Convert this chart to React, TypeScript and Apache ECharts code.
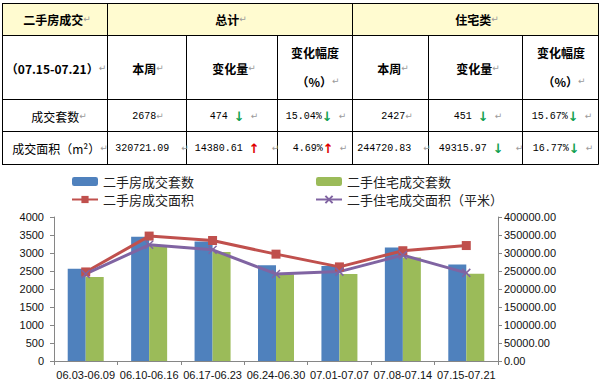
import React, { useEffect, useRef } from "react";
import * as echarts from "echarts";

// ---- chart data ----
const categories = ["06.03-06.09", "06.10-06.16", "06.17-06.23", "06.24-06.30", "07.01-07.07", "07.08-07.14", "07.15-07.21"];
const totalCount = [2560, 3450, 3320, 2660, 2640, 3152, 2678];
const residentialCount = [2330, 3210, 3030, 2410, 2420, 2878, 2427];
const totalArea = [247400, 347000, 334700, 296800, 261400, 306340.48, 320721.09];
const residentialArea = [241800, 322700, 308800, 241800, 248300, 294036.8, 244720.83];
const seriesNames = ["二手房成交套数", "二手住宅成交套数", "二手房成交面积", "二手住宅成交面积（平米）"];

// ---- table data ----
const headerTitles = ["二手房成交", "总计", "住宅类"];
const periodLabel = "（07.15-07.21）";
const subHeaders = ["本周", "变化量", "变化幅度", "本周", "变化量", "变化幅度"];
const rowLabels = ["成交套数", "成交面积（m²）"];
const totalThisWeek = ["2678", "320721.09"];
const totalChange = ["474", "14380.61"];
const totalChangeDir = ["down", "up"];
const totalPct = ["15.04%", "4.69%"];
const totalPctDir = ["down", "up"];
const resThisWeek = ["2427", "244720.83"];
const resChange = ["451", "49315.97"];
const resChangeDir = ["down", "down"];
const resPct = ["15.67%", "16.77%"];
const resPctDir = ["down", "down"];

const CN = "Noto Sans CJK SC";
const MONO = "Liberation Mono";

export default function App() {
  const ref = useRef<HTMLDivElement>(null);
  useEffect(() => {
    if (!ref.current) return;
    const chart = echarts.init(ref.current, undefined, { renderer: "svg" });

    const colX = [2, 107, 186, 277, 352, 428, 522, 598];
    const rowY = [3, 35, 99, 131, 164];
    const graphics: any[] = [];
    graphics.push({ type: "rect", shape: { x: 2, y: 3, width: 596, height: 32 }, style: { fill: "#FFFBD0" }, z: 0 });
    rowY.forEach((y) => {
      graphics.push({ type: "line", shape: { x1: 2, y1: y + 0.5, x2: 598.5, y2: y + 0.5 }, style: { stroke: "#000", lineWidth: 1 }, z: 2 });
    });
    colX.forEach((x, i) => {
      const merged = i === 2 || i === 3 || i === 5 || i === 6;
      graphics.push({ type: "line", shape: { x1: x + 0.5, y1: merged ? 35 : 3, x2: x + 0.5, y2: 164.5 }, style: { stroke: "#000", lineWidth: 1 }, z: 2 });
    });

    const rich = {
      b: { fontFamily: CN, fontSize: 12, fontWeight: "bold", fill: "#000" },
      c: { fontFamily: CN, fontSize: 12, fill: "#000" },
      n: { fontFamily: MONO, fontSize: 10, fill: "#000" },
      up: { fontFamily: "DejaVu Sans", fontSize: 13, fontWeight: "bold", fill: "#E00000" },
      down: { fontFamily: "DejaVu Sans", fontSize: 13, fontWeight: "bold", fill: "#10A050" },
      p: { fontFamily: "DejaVu Sans", fontSize: 9, fill: "#9a9a9a" },
      sp: { fontFamily: MONO, fontSize: 10, fill: "#000" },
    };
    const txt = (x: number, y: number, text: string) => {
      graphics.push({ type: "text", x, y, z: 3, style: { text, rich, align: "center", verticalAlign: "middle" } });
    };
    const arrow = (d: string) => (d === "up" ? "{up|↑}" : "{down|↓}");

    txt(57, 19, `{b|${headerTitles[0]}}{p|↵}`);
    txt(231, 19, `{b|${headerTitles[1]}}{p|↵}`);
    txt(477, 19, `{b|${headerTitles[2]}}{p|↵}`);
    txt(56, 68, `{b|${periodLabel}}{p|↵}`);
    const subCenters = [148, 234, 316, 393, 478, 562];
    subHeaders.forEach((s, i) => {
      if (s === "变化幅度") {
        txt(subCenters[i] - 1, 52, `{b|${s}}`);
        txt(subCenters[i] + 2, 81, `{b|（%）}{p|↵}`);
      } else {
        txt(subCenters[i], 68, `{b|${s}}{p|↵}`);
      }
    });
    rowLabels.forEach((lab, r) => {
      const y = r === 0 ? 116 : 148;
      txt(r === 0 ? 59 : 60, y, `{c|${lab}}{p|↵}`);
      txt(r === 0 ? 148 : 152, y, r === 0 ? `{n|${totalThisWeek[r]}}{p|↵}` : `{n|${totalThisWeek[r]}}{sp|  }{p|↵}`);
      txt(r === 0 ? 234 : 237, y, `{n|${totalChange[r]}}{sp| }${arrow(totalChangeDir[r])}{sp|${r === 0 ? " " : "  "}}{p|↵}`);
      txt(r === 0 ? 316 : 320, y, `{n|${totalPct[r]}}${arrow(totalPctDir[r])}{sp| }{p|↵}`);
      txt(r === 0 ? 397 : 394, y, r === 0 ? `{n|${resThisWeek[r]}}{p|↵}` : `{n|${resThisWeek[r]}}{sp|  }{p|↵}`);
      txt(r === 0 ? 478 : 481, y, `{n|${resChange[r]}}{sp| }${arrow(resChangeDir[r])}{sp|${r === 0 ? " " : "  "}}{p|↵}`);
      txt(r === 0 ? 562 : 563, y, `{n|${resPct[r]}}${arrow(resPctDir[r])}{sp| }{p|↵}`);
    });

    const axisLabelStyle = { fontFamily: "Liberation Sans", fontSize: 11, color: "#111" };
    const axisLineStyle = { lineStyle: { color: "#868686", width: 1 } };
    const legendBase = {
      orient: "vertical",
      top: 175,
      padding: 0,
      itemWidth: 26,
      itemHeight: 9,
      itemGap: 5,
      textStyle: { fontFamily: CN, fontSize: 13, color: "#222", lineHeight: 10 },
    };

    chart.setOption({
      animation: false,
      graphic: graphics,
      legend: [
        { ...legendBase, data: [seriesNames[0], seriesNames[2]], left: 71 },
        { ...legendBase, data: [seriesNames[1], seriesNames[3]], left: 315 },
      ],
      grid: { left: 54, right: 103, top: 217, bottom: 23, containLabel: false },
      xAxis: {
        type: "category",
        data: categories,
        axisLine: axisLineStyle,
        axisTick: { show: true, length: 4, lineStyle: { color: "#868686" } },
        axisLabel: { ...axisLabelStyle, interval: 0, margin: 8 },
      },
      yAxis: [
        {
          type: "value",
          min: 0,
          max: 4000,
          interval: 500,
          axisLine: { show: true, ...axisLineStyle },
          axisTick: { show: true, length: 4, lineStyle: { color: "#868686" } },
          splitLine: { show: false },
          axisLabel: { ...axisLabelStyle, margin: 10, formatter: (v: number) => String(v) },
        },
        {
          type: "value",
          min: 0,
          max: 400000,
          interval: 50000,
          position: "right",
          axisLine: { show: true, ...axisLineStyle },
          axisTick: { show: true, length: 4, lineStyle: { color: "#868686" } },
          splitLine: { show: false },
          axisLabel: { ...axisLabelStyle, margin: 6, formatter: (v: number) => v.toFixed(2) },
        },
      ],
      series: [
        { name: seriesNames[0], type: "bar", data: totalCount, barWidth: 18, barGap: "0%", itemStyle: { color: "#4F81BD" } },
        { name: seriesNames[1], type: "bar", data: residentialCount, barWidth: 18, barGap: "0%", itemStyle: { color: "#9BBB59" } },
        {
          name: seriesNames[2],
          type: "line",
          yAxisIndex: 1,
          data: totalArea,
          symbol: "rect",
          symbolSize: 9,
          lineStyle: { color: "#C0504D", width: 3 },
          itemStyle: { color: "#C0504D" },
        },
        {
          name: seriesNames[3],
          type: "line",
          yAxisIndex: 1,
          data: residentialArea,
          symbol: "path://M0,0L10,10M10,0L0,10",
          symbolSize: 8,
          lineStyle: { color: "#8064A2", width: 3 },
          itemStyle: { color: "#8064A2", borderColor: "#8064A2", borderWidth: 1.5 },
        },
      ],
    });
    return () => chart.dispose();
  }, []);
  return <div ref={ref} style={{ position: "fixed", left: 0, top: 0, width: 601, height: 384, background: "#fff" }} />;
}
